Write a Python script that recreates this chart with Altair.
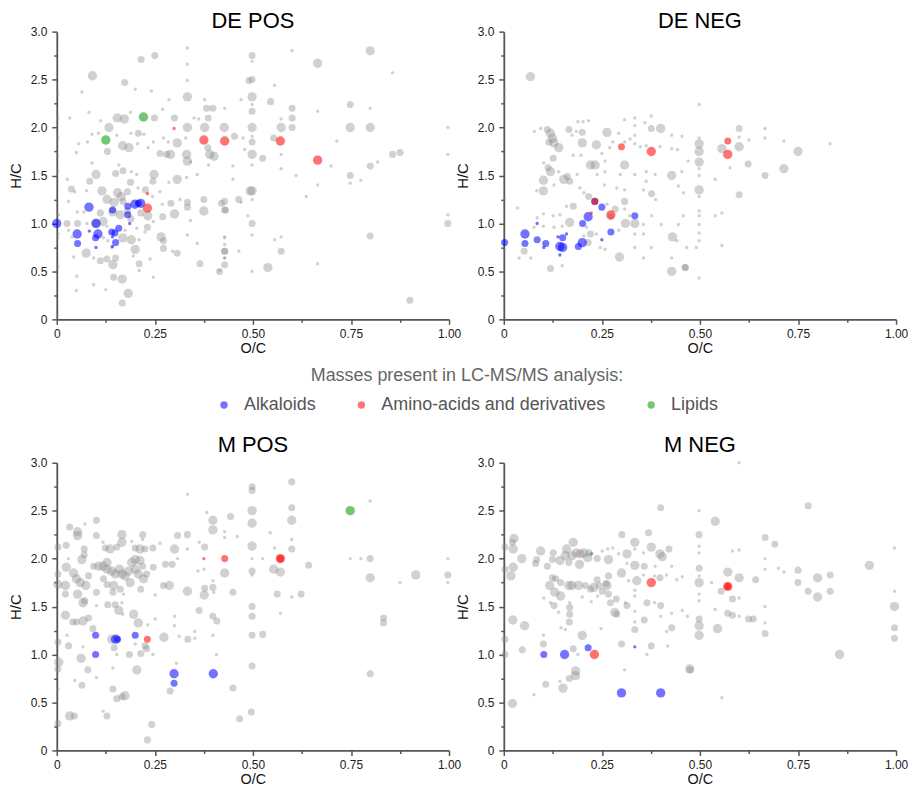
import altair as alt
import pandas as pd

FONT = "Liberation Sans"
PANELS = ["DE POS", "DE NEG", "M POS", "M NEG"]
CLASSES = ["Alkaloids", "Amino-acids and derivatives", "Lipids"]
CLASS_COLORS = ["#0000ff", "#ff0000", "#009900"]
X_TICKS = [0, 0.25, 0.5, 0.75, 1.0]
X_MINOR = [0.125, 0.375, 0.625, 0.875]
Y_TICKS = [0, 0.5, 1.0, 1.5, 2.0, 2.5, 3.0]
Y_MINOR = [0.25, 0.75, 1.25, 1.75, 2.25, 2.75]

# (O/C, H/C, relative intensity class)
DE_POS_BG = [
    (0.333, 2.83, 1), (0.25, 2.75, 2), (0.215, 2.71, 2), (0.091, 2.54, 3), (0.333, 2.66, 1), (0.333, 2.49, 1),
    (0.173, 2.47, 2), (0.064, 2.37, 1), (0.20, 2.40, 1), (0.241, 2.38, 1), (0.333, 2.32, 3), (0.286, 2.29, 1),
    (0.377, 2.29, 1), (0.47, 2.29, 1), (0.49, 2.49, 2), (0.382, 2.20, 2), (0.398, 2.20, 2), (0.428, 2.20, 1),
    (0.27, 2.19, 1), (0.082, 2.16, 1), (0.033, 2.10, 1), (0.112, 2.07, 1), (0.154, 2.10, 3), (0.172, 2.09, 3),
    (0.188, 2.16, 1), (0.249, 2.10, 2), (0.30, 2.10, 2), (0.333, 2.00, 3), (0.35, 2.10, 1), (0.362, 2.09, 1),
    (0.386, 2.10, 2), (0.427, 2.00, 3), (0.377, 2.00, 3), (0.133, 2.00, 3), (0.106, 1.94, 1), (0.090, 1.93, 1),
    (0.153, 1.92, 1), (0.189, 1.94, 1), (0.208, 1.94, 2), (0.222, 1.93, 1), (0.246, 1.85, 1), (0.272, 1.89, 1),
    (0.284, 1.85, 1), (0.307, 1.84, 3), (0.329, 1.89, 1), (0.453, 1.91, 2), (0.475, 1.89, 1), (0.056, 1.83, 1),
    (0.078, 1.85, 1), (0.129, 1.75, 2), (0.168, 1.81, 3), (0.184, 1.79, 3), (0.206, 1.83, 1), (0.233, 1.79, 1),
    (0.263, 1.73, 2), (0.280, 1.72, 2), (0.29, 1.72, 3), (0.331, 1.72, 3), (0.333, 1.65, 3), (0.341, 1.64, 1),
    (0.385, 1.79, 2), (0.39, 1.72, 3), (0.401, 1.70, 3), (0.387, 1.61, 1), (0.449, 1.60, 1), (0.05, 1.74, 1),
    (0.09, 1.63, 1), (0.158, 1.61, 1), (0.150, 1.52, 2), (0.100, 1.51, 3), (0.169, 1.55, 2), (0.19, 1.54, 1),
    (0.204, 1.51, 1), (0.248, 1.51, 3), (0.245, 1.44, 2), (0.307, 1.46, 3), (0.286, 1.43, 1), (0.331, 1.48, 1),
    (0.358, 1.51, 1), (0.027, 1.46, 1), (0.084, 1.44, 2), (0.046, 1.33, 1), (0.037, 1.36, 2), (0.076, 1.34, 1),
    (0.115, 1.34, 3), (0.155, 1.32, 3), (0.164, 1.28, 3), (0.18, 1.33, 2), (0.188, 1.43, 2), (0.207, 1.37, 1),
    (0.226, 1.35, 2), (0.244, 1.28, 1), (0.263, 1.33, 1), (0.291, 1.21, 2), (0.314, 1.25, 1), (0.333, 1.22, 2),
    (0.375, 1.25, 2), (0.42, 1.21, 2), (0.47, 1.22, 1), (0.128, 1.25, 3), (0.146, 1.22, 3), (0.169, 1.23, 2),
    (0.03, 1.23, 1), (0.005, 1.09, 1), (0.052, 1.12, 1), (0.069, 1.12, 1), (0.111, 1.11, 2), (0.118, 1.02, 3),
    (0.143, 1.12, 3), (0.162, 1.09, 3), (0.18, 1.13, 2), (0.189, 1.05, 2), (0.214, 1.11, 2), (0.232, 1.08, 3),
    (0.246, 1.02, 1), (0.269, 1.20, 1), (0.27, 1.07, 2), (0.30, 1.10, 3), (0.333, 1.17, 2), (0.341, 1.03, 1),
    (0.375, 1.13, 3), (0.43, 1.14, 2), (0.487, 1.08, 1), (0.026, 1.0, 2), (0.053, 1.0, 2), (0.077, 1.0, 1),
    (0.10, 1.0, 3), (0.128, 0.97, 1), (0.174, 0.93, 1), (0.204, 0.95, 1), (0.225, 0.91, 1), (0.231, 0.96, 2),
    (0.266, 0.86, 3), (0.272, 0.82, 2), (0.272, 0.74, 2), (0.333, 0.88, 1), (0.358, 0.79, 1), (0.295, 0.71, 1),
    (0.307, 0.69, 2), (0.428, 0.86, 1), (0.428, 0.78, 1), (0.003, 0.89, 1), (0.03, 0.93, 1), (0.039, 0.86, 1),
    (0.119, 0.85, 1), (0.13, 0.82, 1), (0.168, 0.85, 3), (0.19, 0.83, 3), (0.21, 0.83, 1), (0.20, 0.73, 3),
    (0.14, 0.75, 1), (0.075, 0.69, 3), (0.043, 0.65, 1), (0.094, 0.64, 1), (0.111, 0.61, 2), (0.128, 0.63, 2),
    (0.143, 0.57, 3), (0.15, 0.64, 2), (0.195, 0.66, 1), (0.21, 0.58, 2), (0.238, 0.63, 1), (0.145, 0.44, 2),
    (0.167, 0.42, 3), (0.21, 0.51, 1), (0.246, 0.44, 1), (0.05, 0.30, 1), (0.125, 0.31, 1), (0.182, 0.27, 3),
    (0.167, 0.17, 2), (0.051, 0.45, 1), (0.094, 0.36, 1), (0.365, 0.58, 2), (0.415, 0.51, 1), (0.428, 0.71, 2),
    (0.428, 0.64, 1), (0.464, 0.71, 1), (0.493, 1.34, 3), (0.449, 1.46, 1),
    (0.498, 2.75, 2), (0.498, 2.69, 1), (0.498, 2.50, 2), (0.498, 2.32, 3), (0.498, 2.24, 1), (0.498, 2.17, 2),
    (0.498, 2.0, 3), (0.498, 1.91, 1), (0.498, 1.85, 2), (0.498, 1.72, 3), (0.498, 1.61, 1), (0.498, 1.34, 3),
    (0.498, 1.25, 1), (0.498, 1.0, 2), (0.498, 0.88, 1), (0.498, 0.50, 1), (0.6, 2.80, 1), (0.799, 2.80, 3),
    (0.665, 2.67, 3), (0.856, 2.57, 1), (0.555, 2.44, 1), (0.545, 2.27, 2), (0.6, 2.20, 2), (0.6, 2.10, 2),
    (0.6, 2.0, 2), (0.572, 2.0, 3), (0.572, 2.09, 1), (0.665, 2.17, 1), (0.748, 2.24, 2), (0.799, 2.20, 1),
    (0.748, 2.0, 3), (0.799, 2.0, 3), (0.997, 2.0, 1), (0.714, 1.86, 1), (0.553, 1.89, 2), (0.572, 1.72, 1),
    (0.525, 1.68, 2), (0.856, 1.72, 2), (0.875, 1.74, 2), (0.818, 1.64, 1), (0.799, 1.60, 2), (0.997, 1.72, 1),
    (0.572, 1.57, 1), (0.61, 1.50, 1), (0.699, 1.60, 1), (0.748, 1.50, 2), (0.748, 1.42, 1), (0.775, 1.45, 1),
    (0.636, 1.28, 1), (0.665, 1.40, 1), (0.555, 0.83, 1), (0.572, 0.86, 1), (0.572, 0.71, 2), (0.538, 0.54, 3),
    (0.665, 0.58, 1), (0.799, 0.87, 2), (0.997, 1.0, 2), (0.997, 1.09, 1), (0.9, 0.20, 2), (0.428, 1.23, 2),
    (0.428, 1.14, 2), (0.428, 0.85, 1), (0.428, 0.71, 2), (0.428, 0.64, 1), (0.428, 0.57, 2), (0.415, 0.50, 2),
    (0.479, 1.77, 1), (0.464, 1.25, 2), (0.002, 2.35, 1), (0.002, 2.1, 1), (0.002, 1.9, 1), (0.002, 1.7, 1),
    (0.002, 1.55, 1), (0.002, 0.85, 1), (0.003, 0.55, 1),
]
DE_POS_ALK = [
    (0.0, 1.0, 3), (0.052, 0.89, 3), (0.053, 0.79, 2), (0.082, 1.17, 3), (0.083, 0.92, 1), (0.1, 1.0, 3),
    (0.105, 0.89, 3), (0.099, 0.85, 2), (0.1, 0.75, 1), (0.142, 1.14, 2), (0.14, 0.91, 2), (0.148, 0.90, 2),
    (0.142, 0.86, 1), (0.142, 0.76, 1), (0.15, 0.80, 2), (0.158, 0.95, 2), (0.181, 1.18, 2), (0.181, 1.09, 2),
    (0.186, 1.0, 1), (0.199, 1.20, 3), (0.214, 1.21, 3), (0.208, 1.21, 2),
]
DE_POS_AA = [(0.299, 1.99, 1), (0.375, 1.87, 3), (0.428, 1.86, 3), (0.57, 1.86, 3), (0.665, 1.66, 3),
             (0.231, 1.31, 1), (0.231, 1.16, 3)]
DE_POS_LIP = [(0.125, 1.87, 3), (0.221, 2.11, 3)]

DE_NEG_BG = [
    (0.068, 2.53, 3), (0.078, 1.96, 1), (0.094, 1.99, 1), (0.111, 1.98, 2), (0.119, 1.94, 3), (0.124, 1.89, 3),
    (0.128, 1.84, 3), (0.14, 1.79, 3), (0.115, 1.85, 2), (0.166, 1.98, 2), (0.174, 1.92, 1), (0.185, 1.96, 1),
    (0.2, 1.95, 2), (0.189, 2.06, 1), (0.202, 2.06, 1), (0.216, 2.07, 1), (0.263, 1.95, 3), (0.293, 1.94, 1),
    (0.308, 2.08, 1), (0.334, 2.10, 1), (0.334, 2.02, 1), (0.36, 2.05, 1), (0.376, 2.12, 1), (0.376, 1.99, 2),
    (0.40, 1.99, 3), (0.2, 1.84, 3), (0.236, 1.82, 3), (0.25, 1.73, 1), (0.27, 1.79, 1), (0.278, 1.85, 1),
    (0.308, 1.85, 1), (0.322, 1.88, 1), (0.334, 1.92, 1), (0.334, 1.83, 1), (0.348, 1.80, 1), (0.363, 1.81, 1),
    (0.398, 1.80, 1), (0.428, 1.92, 1), (0.454, 1.91, 1), (0.443, 1.77, 1), (0.428, 1.78, 1), (0.197, 1.71, 1),
    (0.177, 1.71, 1), (0.126, 1.68, 2), (0.102, 1.63, 1), (0.119, 1.54, 3), (0.113, 1.58, 2), (0.14, 1.54, 1),
    (0.153, 1.46, 3), (0.162, 1.49, 2), (0.168, 1.44, 2), (0.187, 1.51, 1), (0.221, 1.61, 3), (0.233, 1.61, 3),
    (0.238, 1.51, 1), (0.258, 1.65, 1), (0.258, 1.54, 1), (0.308, 1.61, 3), (0.297, 1.51, 1), (0.334, 1.51, 1),
    (0.363, 1.54, 1), (0.363, 1.44, 1), (0.386, 1.51, 1), (0.428, 1.50, 3), (0.454, 1.54, 1), (0.47, 1.65, 1),
    (0.101, 1.45, 3), (0.084, 1.34, 1), (0.101, 1.34, 3), (0.128, 1.40, 1), (0.194, 1.37, 1), (0.204, 1.32, 1),
    (0.216, 1.28, 2), (0.257, 1.40, 1), (0.288, 1.37, 1), (0.308, 1.35, 1), (0.356, 1.35, 1), (0.377, 1.31, 2),
    (0.387, 1.25, 1), (0.445, 1.39, 1), (0.458, 1.32, 1), (0.035, 1.16, 1), (0.085, 1.06, 1), (0.101, 1.10, 1),
    (0.126, 1.08, 1), (0.143, 1.09, 1), (0.168, 1.01, 3), (0.177, 1.18, 2), (0.16, 1.18, 1), (0.263, 1.20, 1),
    (0.272, 1.07, 2), (0.284, 1.15, 2), (0.308, 1.23, 2), (0.308, 1.15, 1), (0.31, 1.00, 3), (0.334, 1.00, 3),
    (0.321, 1.08, 1), (0.356, 0.99, 1), (0.377, 1.08, 1), (0.401, 0.99, 1), (0.445, 0.99, 1), (0.458, 1.08, 1),
    (0.077, 0.96, 1), (0.101, 0.97, 1), (0.128, 0.96, 1), (0.149, 0.97, 1), (0.211, 0.96, 1), (0.221, 0.89, 2),
    (0.236, 0.89, 1), (0.293, 0.93, 1), (0.334, 0.89, 1), (0.356, 0.89, 1), (0.43, 0.86, 3), (0.441, 0.82, 1),
    (0.466, 0.75, 1), (0.491, 0.75, 1), (0.052, 0.71, 2), (0.069, 0.64, 1), (0.039, 0.64, 1), (0.119, 0.53, 2),
    (0.149, 0.56, 1), (0.258, 0.73, 1), (0.295, 0.65, 3), (0.334, 0.75, 1), (0.356, 0.64, 1), (0.376, 0.75, 1),
    (0.428, 0.64, 1), (0.428, 0.50, 3), (0.462, 0.54, 2), (0.204, 0.87, 1), (0.215, 0.80, 2), (0.246, 0.75, 1),
    (0.498, 2.24, 1), (0.498, 1.89, 1), (0.498, 1.83, 3), (0.498, 1.75, 3), (0.498, 1.64, 3), (0.498, 1.57, 1),
    (0.498, 1.50, 1), (0.498, 1.35, 3), (0.498, 1.28, 1), (0.498, 1.13, 1), (0.498, 1.08, 1), (0.498, 0.99, 1),
    (0.498, 0.90, 1), (0.498, 0.82, 1), (0.498, 0.43, 1), (0.556, 1.78, 3), (0.6, 1.80, 3), (0.6, 1.99, 2),
    (0.6, 1.90, 1), (0.625, 1.87, 1), (0.623, 1.62, 2), (0.6, 1.30, 2), (0.666, 1.50, 2), (0.666, 1.99, 1),
    (0.666, 1.89, 1), (0.714, 1.57, 3), (0.714, 1.86, 1), (0.75, 1.75, 3), (0.832, 1.83, 1), (0.539, 1.08, 1),
    (0.556, 1.11, 1), (0.556, 0.77, 1), (0.539, 1.46, 1), (0.577, 1.58, 1), (0.463, 0.54, 2),
    (0.002, 2.4, 1), (0.002, 2.3, 1), (0.002, 1.25, 1), (0.002, 0.72, 1),
]
DE_NEG_ALK = [
    (0.002, 0.80, 2), (0.054, 0.89, 3), (0.054, 0.79, 2), (0.085, 0.83, 2), (0.085, 1.0, 1), (0.102, 0.75, 1),
    (0.107, 0.79, 2), (0.138, 0.86, 1), (0.15, 0.85, 2), (0.16, 0.89, 1), (0.143, 0.76, 3), (0.15, 0.75, 3),
    (0.143, 0.67, 1), (0.19, 0.76, 2), (0.2, 0.80, 3), (0.201, 1.0, 2), (0.215, 1.07, 3), (0.25, 1.17, 2),
    (0.25, 0.83, 1), (0.273, 0.91, 2), (0.334, 1.08, 2), (0.232, 1.23, 2),
]
DE_NEG_AA = [(0.30, 1.80, 2), (0.376, 1.75, 3), (0.571, 1.86, 2), (0.571, 1.72, 3), (0.273, 1.09, 3),
             (0.223, 1.11, 1), (0.232, 1.23, 2)]
DE_NEG_LIP = []

M_POS_BG = [
    (0.333, 2.67, 1), (0.101, 2.40, 2), (0.033, 2.33, 2), (0.053, 2.28, 3), (0.053, 2.24, 3), (0.072, 2.36, 1),
    (0.101, 2.24, 2), (0.166, 2.25, 3), (0.166, 2.17, 3), (0.191, 2.18, 1), (0.219, 2.25, 2), (0.219, 2.20, 1),
    (0.003, 2.12, 2), (0.024, 2.14, 2), (0.07, 2.10, 2), (0.07, 2.04, 2), (0.118, 2.17, 1), (0.124, 2.11, 2),
    (0.136, 2.10, 3), (0.153, 2.12, 2), (0.2, 2.11, 2), (0.212, 2.10, 3), (0.225, 2.10, 2), (0.245, 2.11, 2),
    (0.263, 2.16, 1), (0.30, 2.10, 3), (0.308, 2.24, 2), (0.333, 2.25, 2), (0.333, 2.10, 1), (0.363, 2.17, 1),
    (0.377, 2.12, 2), (0.398, 2.40, 3), (0.398, 2.30, 3), (0.382, 2.48, 1), (0.443, 2.44, 2), (0.428, 2.28, 1),
    (0.428, 2.22, 1), (0.46, 2.23, 1), (0.03, 2.00, 1), (0.064, 1.99, 3), (0.024, 1.91, 3), (0.043, 1.85, 3),
    (0.05, 1.79, 3), (0.06, 1.75, 3), (0.074, 1.72, 3), (0.081, 1.82, 2), (0.094, 1.92, 2), (0.107, 1.92, 3),
    (0.118, 1.92, 3), (0.128, 1.96, 3), (0.128, 1.89, 3), (0.14, 1.87, 3), (0.149, 1.84, 3), (0.16, 1.89, 3),
    (0.166, 1.84, 3), (0.174, 1.82, 3), (0.183, 1.87, 3), (0.191, 1.96, 3), (0.2, 1.99, 3), (0.212, 1.98, 3),
    (0.219, 1.92, 2), (0.2, 1.89, 3), (0.208, 1.84, 3), (0.221, 1.79, 3), (0.229, 1.84, 2), (0.246, 1.91, 2),
    (0.187, 1.75, 3), (0.128, 1.73, 2), (0.145, 1.72, 3), (0.119, 1.79, 2), (0.162, 1.68, 2), (0.003, 1.73, 3),
    (0.003, 1.84, 2), (0.022, 1.72, 3), (0.022, 1.63, 2), (0.053, 1.63, 3), (0.101, 1.65, 2), (0.143, 1.65, 2),
    (0.17, 1.63, 1), (0.214, 1.68, 2), (0.251, 1.62, 1), (0.272, 1.72, 2), (0.287, 1.72, 3), (0.277, 1.94, 2),
    (0.294, 1.94, 2), (0.308, 2.00, 1), (0.333, 1.66, 3), (0.36, 1.87, 1), (0.377, 1.69, 2), (0.398, 1.77, 1),
    (0.398, 1.70, 2), (0.376, 1.62, 3), (0.40, 1.65, 1), (0.375, 1.89, 1), (0.449, 1.65, 2), (0.428, 1.85, 3),
    (0.071, 1.56, 2), (0.067, 1.54, 3), (0.101, 1.51, 1), (0.13, 1.52, 2), (0.149, 1.52, 2), (0.166, 1.54, 1),
    (0.158, 1.46, 3), (0.196, 1.42, 3), (0.168, 1.42, 1), (0.022, 1.41, 3), (0.041, 1.34, 2), (0.05, 1.34, 2),
    (0.067, 1.35, 3), (0.081, 1.38, 2), (0.092, 1.27, 2), (0.208, 1.33, 3), (0.232, 1.31, 1), (0.251, 1.37, 1),
    (0.363, 1.46, 2), (0.30, 1.40, 1), (0.30, 1.30, 1), (0.334, 1.16, 2), (0.352, 1.24, 1), (0.352, 1.17, 1),
    (0.398, 1.40, 2), (0.398, 1.20, 1), (0.408, 1.35, 2), (0.312, 1.19, 1), (0.273, 1.18, 3), (0.026, 1.20, 1),
    (0.03, 1.09, 2), (0.067, 1.08, 1), (0.003, 1.13, 2), (0.14, 1.16, 3), (0.146, 1.07, 2), (0.153, 1.00, 1),
    (0.185, 1.00, 2), (0.214, 1.01, 2), (0.225, 1.09, 2), (0.229, 1.06, 2), (0.245, 1.00, 1), (0.2, 1.11, 1),
    (0.005, 0.92, 3), (0.003, 0.85, 2), (0.062, 0.96, 3), (0.079, 0.84, 2), (0.101, 0.76, 1), (0.143, 0.86, 1),
    (0.204, 0.84, 3), (0.305, 0.91, 1), (0.407, 1.00, 1), (0.003, 0.64, 1), (0.046, 0.73, 1), (0.064, 0.68, 2),
    (0.143, 0.64, 2), (0.153, 0.54, 2), (0.166, 0.56, 2), (0.174, 0.57, 3), (0.289, 0.62, 2), (0.449, 0.65, 2),
    (0.118, 0.41, 1), (0.128, 0.36, 2), (0.033, 0.36, 3), (0.045, 0.36, 2), (0.242, 0.27, 2), (0.231, 0.11, 2),
    (0.003, 0.28, 2), (0.466, 0.33, 2), (0.496, 0.40, 2),
    (0.498, 2.75, 2), (0.498, 2.71, 2), (0.498, 2.50, 3), (0.498, 2.37, 3), (0.498, 2.13, 3), (0.498, 2.0, 1),
    (0.498, 1.87, 2), (0.498, 1.83, 1), (0.498, 1.50, 2), (0.498, 1.40, 2), (0.498, 1.20, 2), (0.498, 0.88, 2),
    (0.599, 2.80, 2), (0.599, 2.53, 2), (0.599, 2.40, 3), (0.599, 2.20, 1), (0.599, 2.10, 2), (0.544, 2.27, 1),
    (0.555, 2.11, 1), (0.525, 2.0, 1), (0.553, 1.89, 3), (0.570, 1.86, 3), (0.570, 1.43, 1), (0.562, 1.63, 2),
    (0.623, 1.63, 2), (0.642, 1.93, 2), (0.599, 1.60, 1), (0.525, 1.21, 2), (0.748, 2.0, 1), (0.775, 2.0, 1),
    (0.799, 2.0, 2), (0.799, 1.80, 3), (0.875, 1.75, 1), (0.915, 1.83, 3), (0.997, 2.0, 1), (0.997, 1.83, 2),
    (0.997, 1.75, 1), (0.833, 1.38, 2), (0.833, 1.33, 2), (0.799, 0.80, 2), (0.799, 2.60, 1),
]
M_POS_ALK = [(0.099, 1.20, 2), (0.099, 1.0, 2), (0.15, 1.16, 3), (0.155, 1.16, 2), (0.2, 1.20, 2),
             (0.299, 0.80, 3), (0.299, 0.70, 2), (0.399, 0.80, 3)]
M_POS_AA = [(0.231, 1.16, 2), (0.375, 2.0, 1), (0.428, 2.0, 2), (0.570, 2.0, 3), (0.570, 2.0, 2)]
M_POS_LIP = [(0.748, 2.50, 3)]

M_NEG_BG = [
    (0.026, 2.21, 3), (0.022, 2.17, 2), (0.024, 2.10, 3), (0.003, 2.12, 2), (0.046, 2.00, 3), (0.024, 1.91, 3),
    (0.018, 1.82, 3), (0.003, 1.89, 2), (0.084, 1.99, 2), (0.081, 1.95, 2), (0.094, 2.08, 3), (0.111, 1.92, 2),
    (0.124, 1.99, 2), (0.126, 2.06, 2), (0.143, 1.98, 3), (0.157, 2.03, 3), (0.16, 2.10, 3), (0.177, 2.17, 3),
    (0.174, 2.03, 3), (0.185, 2.06, 3), (0.195, 2.05, 3), (0.204, 2.06, 3), (0.214, 2.01, 3), (0.193, 1.94, 3),
    (0.166, 1.96, 2), (0.217, 2.06, 2), (0.238, 2.00, 2), (0.251, 2.08, 1), (0.265, 2.10, 1), (0.278, 2.11, 1),
    (0.267, 1.99, 3), (0.301, 2.25, 2), (0.314, 2.05, 3), (0.334, 2.17, 3), (0.334, 2.10, 1), (0.369, 2.27, 2),
    (0.376, 2.12, 3), (0.398, 2.05, 3), (0.421, 2.10, 2), (0.404, 2.02, 3), (0.356, 2.06, 1), (0.293, 2.05, 1),
    (0.314, 1.95, 1), (0.334, 1.93, 3), (0.358, 1.92, 2), (0.386, 1.92, 1), (0.428, 1.92, 1), (0.415, 1.83, 1),
    (0.455, 1.81, 1), (0.441, 1.78, 1), (0.398, 1.80, 2), (0.384, 1.82, 1), (0.356, 1.83, 1), (0.339, 1.77, 3),
    (0.318, 1.77, 1), (0.30, 1.85, 3), (0.267, 1.82, 2), (0.261, 1.74, 2), (0.263, 1.72, 3), (0.238, 1.78, 2),
    (0.243, 1.72, 2), (0.229, 1.70, 3), (0.221, 1.68, 2), (0.208, 1.72, 2), (0.191, 1.72, 3), (0.174, 1.72, 3),
    (0.166, 1.72, 3), (0.145, 1.75, 2), (0.132, 1.79, 2), (0.124, 1.80, 2), (0.117, 1.72, 3), (0.13, 1.65, 3),
    (0.145, 1.61, 3), (0.102, 1.59, 1), (0.119, 1.54, 1), (0.128, 1.51, 2), (0.14, 1.44, 1), (0.168, 1.54, 1),
    (0.168, 1.49, 2), (0.168, 1.42, 2), (0.167, 1.34, 2), (0.2, 1.60, 1), (0.223, 1.55, 1), (0.239, 1.61, 1),
    (0.251, 1.66, 2), (0.267, 1.63, 2), (0.272, 1.54, 2), (0.287, 1.58, 2), (0.283, 1.44, 3), (0.288, 1.42, 2),
    (0.31, 1.54, 1), (0.314, 1.51, 2), (0.334, 1.67, 1), (0.334, 1.61, 1), (0.334, 1.45, 1), (0.334, 1.34, 1),
    (0.334, 1.26, 2), (0.358, 1.36, 2), (0.365, 1.54, 2), (0.384, 1.54, 1), (0.40, 1.51, 2), (0.40, 1.40, 1),
    (0.415, 1.24, 1), (0.428, 1.28, 2), (0.428, 1.43, 1), (0.455, 1.46, 1), (0.468, 1.40, 1), (0.023, 1.36, 3),
    (0.053, 1.30, 3), (0.146, 1.28, 1), (0.157, 1.26, 1), (0.2, 1.20, 3), (0.101, 1.20, 1), (0.101, 1.11, 2),
    (0.003, 1.16, 2), (0.003, 1.00, 2), (0.047, 1.05, 2), (0.177, 1.06, 2), (0.189, 1.00, 1), (0.248, 1.27, 1),
    (0.30, 1.11, 2), (0.376, 1.09, 2), (0.365, 1.00, 1), (0.418, 1.09, 1), (0.308, 0.84, 1), (0.475, 0.84, 2),
    (0.183, 0.83, 3), (0.183, 0.78, 3), (0.167, 0.75, 2), (0.143, 0.72, 1), (0.151, 0.65, 3), (0.107, 0.69, 2),
    (0.077, 0.58, 1), (0.022, 0.49, 3),
    (0.6, 3.0, 1), (0.40, 2.53, 2), (0.498, 2.50, 1), (0.539, 2.39, 3), (0.498, 2.25, 2), (0.498, 2.13, 1),
    (0.498, 2.06, 1), (0.498, 1.90, 2), (0.498, 1.82, 1), (0.498, 1.75, 3), (0.498, 1.63, 1), (0.498, 1.56, 1),
    (0.498, 1.37, 2), (0.498, 1.30, 3), (0.498, 1.20, 3), (0.571, 1.86, 3), (0.554, 1.66, 2), (0.571, 1.43, 2),
    (0.583, 1.41, 2), (0.583, 1.58, 2), (0.6, 1.80, 3), (0.6, 2.09, 1), (0.583, 2.08, 1), (0.6, 1.59, 1),
    (0.6, 1.40, 1), (0.624, 1.37, 2), (0.636, 1.37, 2), (0.642, 1.78, 2), (0.666, 2.22, 2), (0.666, 2.0, 1),
    (0.666, 1.89, 1), (0.666, 1.50, 1), (0.666, 1.33, 1), (0.666, 1.22, 2), (0.691, 2.15, 2), (0.7, 1.90, 1),
    (0.714, 1.86, 1), (0.75, 1.88, 2), (0.75, 1.75, 2), (0.776, 2.55, 2), (0.776, 1.66, 2), (0.8, 1.80, 3),
    (0.8, 1.60, 3), (0.832, 1.83, 2), (0.832, 1.66, 2), (0.856, 1.0, 3), (0.932, 1.93, 3), (0.996, 2.11, 1),
    (0.996, 1.66, 1), (0.996, 1.50, 3), (0.996, 1.28, 2), (0.996, 1.17, 2), (0.545, 1.27, 3), (0.556, 0.55, 1),
    (0.474, 0.85, 3), (0.539, 1.47, 1), (0.53, 1.75, 1),
]
M_NEG_ALK = [(0.102, 1.0, 2), (0.155, 1.0, 3), (0.215, 1.07, 2), (0.334, 1.08, 1), (0.30, 0.60, 3), (0.40, 0.60, 3)]
M_NEG_AA = [(0.231, 1.0, 3), (0.376, 1.75, 3), (0.571, 1.71, 3), (0.571, 1.71, 2)]
M_NEG_LIP = [(0.224, 2.05, 1)]

SOURCES = {
    "DE POS": (DE_POS_BG, DE_POS_ALK, DE_POS_AA, DE_POS_LIP),
    "DE NEG": (DE_NEG_BG, DE_NEG_ALK, DE_NEG_AA, DE_NEG_LIP),
    "M POS": (M_POS_BG, M_POS_ALK, M_POS_AA, M_POS_LIP),
    "M NEG": (M_NEG_BG, M_NEG_ALK, M_NEG_AA, M_NEG_LIP),
}

rows = []
for panel_name, groups in SOURCES.items():
    labels = ["Background"] + CLASSES
    for label, pts in zip(labels, groups):
        for oc, hc, sz in pts:
            rows.append({"panel": panel_name, "cls": label, "oc": oc, "hc": hc, "sz": sz})
df = pd.DataFrame(rows)

x_scale = alt.Scale(domain=[0, 1], nice=False, zero=False)
y_scale = alt.Scale(domain=[0, 3], nice=False, zero=False)
size_enc = alt.Size("sz:Q", scale=alt.Scale(domain=[1, 3], range=[12, 88]), legend=None)

legend = alt.Legend(
    title="Masses present in LC-MS/MS analysis:",
    orient="none", legendX=159, legendY=337, direction="horizontal",
    titleAnchor="middle", titleFontSize=18, titleColor="#666666", titleFontWeight="normal",
    titleFont=FONT, titlePadding=11, titleLimit=0,
    labelFont=FONT, labelFontSize=18, labelColor="#555555", labelLimit=0, labelOffset=11,
    symbolType="circle", symbolSize=55, symbolOpacity=0.55, symbolStrokeWidth=0,
    columnPadding=36,
)


def panel(name, title_offset):
    base = alt.Chart(df[df.panel == name])
    bg = base.transform_filter(alt.datum.cls == "Background").mark_circle(
        color="#8c8c8c", opacity=0.4
    ).encode(
        x=alt.X("oc:Q", scale=x_scale, axis=alt.Axis(
            values=X_TICKS, title="O/C", orient="bottom", titlePadding=2, labelPadding=4,
            titleFontSize=14.5, labelFlush=False,
            labelExpr="datum.value == 0 ? '0' : format(datum.value, '.2f')")),
        y=alt.Y("hc:Q", scale=y_scale, axis=alt.Axis(
            values=Y_TICKS, title="H/C", orient="left", titlePadding=6.5, labelPadding=5,
            labelFlush=False,
            labelExpr="datum.value == 0 ? '0' : format(datum.value, '.1f')")),
        size=size_enc,
    )
    fg = base.transform_filter(alt.datum.cls != "Background").mark_circle(opacity=0.55).encode(
        x=alt.X("oc:Q", scale=x_scale, axis=alt.Axis(
            values=X_MINOR, title=None, labels=False, domain=False, tickSize=3, orient="bottom")),
        y=alt.Y("hc:Q", scale=y_scale, axis=alt.Axis(
            values=Y_MINOR, title=None, labels=False, domain=False, tickSize=3, orient="left")),
        size=size_enc,
        color=alt.Color("cls:N", scale=alt.Scale(domain=CLASSES, range=CLASS_COLORS), legend=legend),
    )
    return alt.layer(bg, fg).resolve_axis(x="independent", y="independent").properties(
        width=394, height=289,
        title=alt.TitleParams(name, fontSize=22, font=FONT, fontWeight="normal", color="#000000",
                              offset=title_offset, anchor="middle", frame="group"),
    )


top = alt.hconcat(panel("DE POS", -7.5), panel("DE NEG", -7.5), spacing=55, bounds="flush")
bottom = alt.hconcat(panel("M POS", 0), panel("M NEG", 0), spacing=55, bounds="flush")

chart = alt.vconcat(top, bottom, spacing=433, bounds="flush").resolve_scale(color="shared").properties(
    padding={"left": 0, "top": 0, "right": 0, "bottom": 0}
).configure_view(
    stroke=None
).configure_axis(
    domainColor="#555555", domainWidth=1.8, tickColor="#555555", tickWidth=1.5, tickSize=5,
    labelFont=FONT, labelFontSize=12, labelColor="#222222",
    titleFont=FONT, titleFontSize=15, titleColor="#111111", titleFontWeight="normal",
    grid=False,
)

chart.save("out.html", embed_options={"renderer": "svg", "actions": False})
